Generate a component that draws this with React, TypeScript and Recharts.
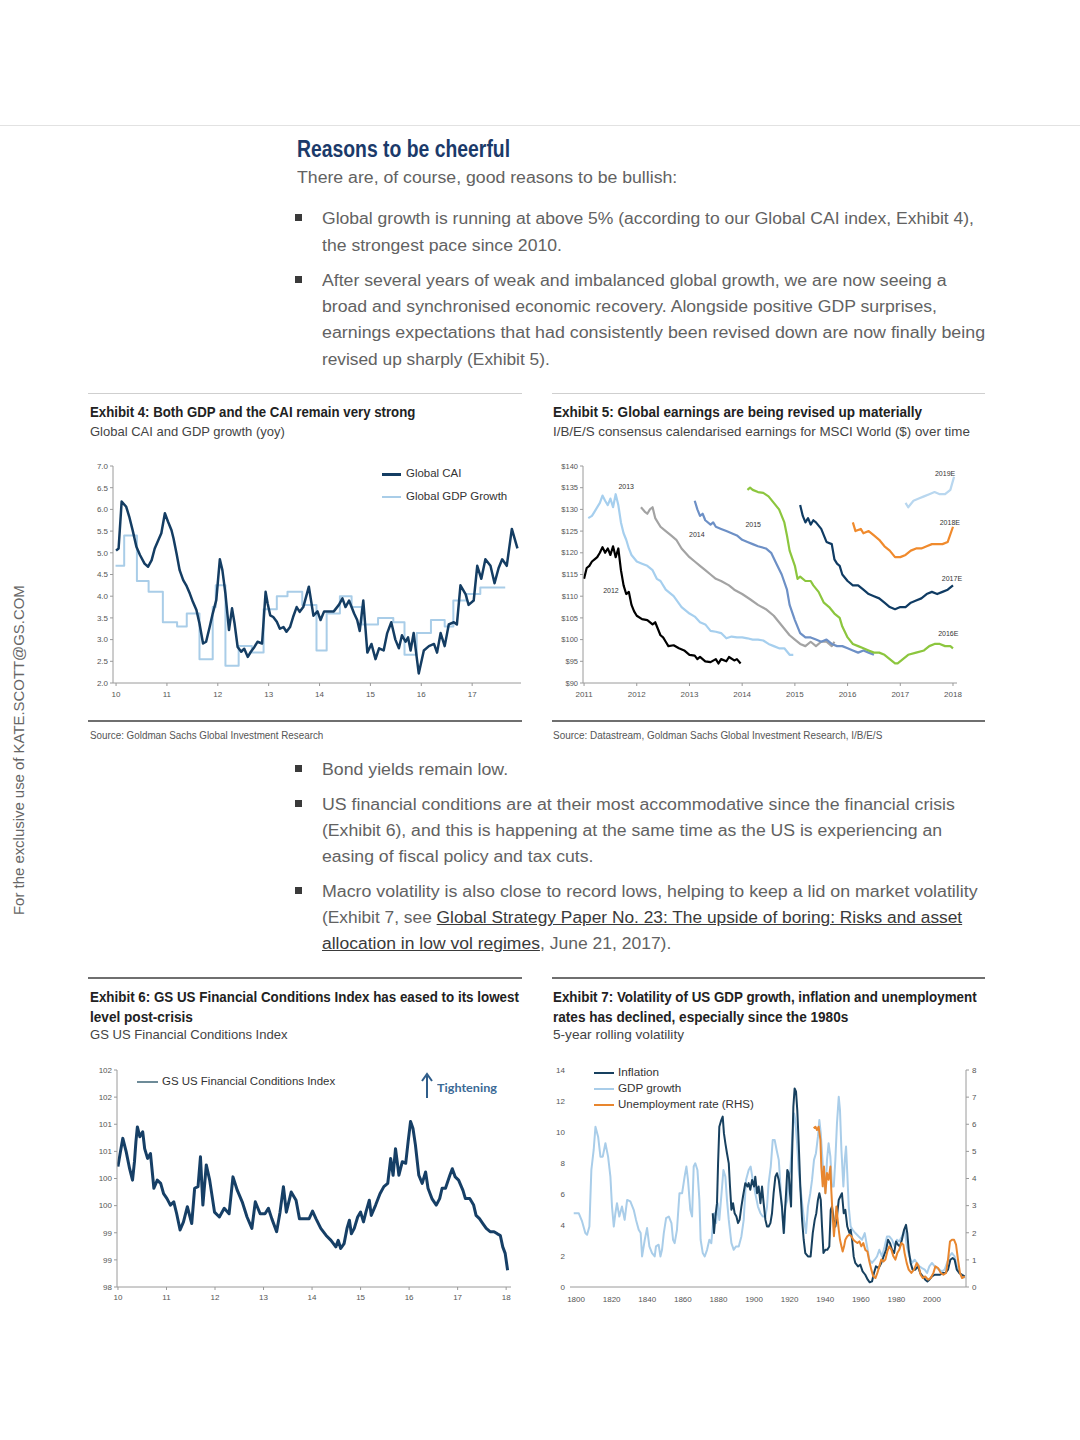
import React from 'react';
import { LineChart, Line, XAxis, YAxis, ReferenceDot } from 'recharts';

type P = [number, number];
const pts = (a: P[]) => a.map(([x, y]) => ({ x, y }));

const SANS = '"Liberation Sans", Arial, Helvetica, sans-serif';
const AX = '#9a9a9a';
const tickStyle = { fontSize: 8, fill: '#555', fontFamily: SANS };

// ---------- Exhibit 4 ----------
const ex4YearTicks = [10, 11, 12, 13, 14, 15, 16, 17];
const ex4ValueTicks = [2, 2.5, 3, 3.5, 4, 4.5, 5, 5.5, 6, 6.5, 7];
const globalCAI: P[] = [
  [10.0, 5.05], [10.05, 5.1], [10.11, 6.18], [10.2, 6.06], [10.26, 5.83], [10.33, 5.5], [10.4, 5.14], [10.47, 4.95], [10.56, 4.75], [10.63, 4.68],
  [10.7, 4.83], [10.76, 5.1], [10.83, 5.29], [10.89, 5.45], [10.96, 5.91], [11.02, 5.72], [11.09, 5.52], [11.13, 5.33], [11.19, 4.98], [11.25, 4.6],
  [11.32, 4.37], [11.38, 4.25], [11.45, 4.06], [11.51, 3.87], [11.58, 3.68], [11.64, 3.37], [11.71, 2.91], [11.77, 2.95], [11.84, 3.29], [11.9, 3.6],
  [11.97, 3.91], [12.04, 4.85], [12.09, 4.6], [12.15, 4.06], [12.22, 3.22], [12.28, 3.72], [12.33, 3.37], [12.39, 2.83], [12.46, 2.72], [12.52, 2.79],
  [12.59, 2.6], [12.65, 2.72], [12.72, 2.83], [12.78, 2.95], [12.87, 2.91], [12.94, 4.1], [12.98, 3.83], [13.03, 3.56], [13.09, 3.52], [13.16, 3.41],
  [13.22, 3.25], [13.29, 3.29], [13.35, 3.18], [13.42, 3.29], [13.48, 3.52], [13.55, 3.75], [13.61, 3.64], [13.68, 3.75], [13.79, 4.22], [13.88, 3.55],
  [13.96, 3.65], [14.02, 3.45], [14.09, 3.65], [14.19, 3.65], [14.28, 3.65], [14.38, 3.8], [14.45, 3.95], [14.51, 3.75], [14.58, 3.9], [14.68, 3.6],
  [14.74, 3.45], [14.79, 3.2], [14.86, 3.9], [14.94, 2.7], [15.02, 2.9], [15.1, 2.55], [15.17, 2.8], [15.26, 2.75], [15.33, 3.15], [15.41, 3.4],
  [15.49, 3.0], [15.56, 2.8], [15.62, 3.1], [15.69, 2.95], [15.74, 3.05], [15.79, 2.75], [15.85, 3.15], [15.95, 2.22], [16.05, 2.75], [16.15, 2.85],
  [16.25, 2.9], [16.31, 2.7], [16.38, 3.15], [16.46, 2.85], [16.54, 3.35], [16.64, 3.4], [16.7, 3.35], [16.77, 4.25], [16.87, 4.05], [16.93, 3.8],
  [17.03, 3.9], [17.1, 4.7], [17.18, 4.4], [17.26, 4.85], [17.36, 4.7], [17.44, 4.3], [17.52, 4.65], [17.59, 4.85], [17.68, 4.7], [17.78, 5.55], [17.89, 5.1],
];
const globalGDP: P[] = [
  [9.99, 4.7], [10.16, 5.4], [10.41, 4.35], [10.64, 4.1], [10.92, 3.4], [11.2, 3.3], [11.39, 3.6], [11.64, 2.55], [11.9, 3.75], [11.96, 4.25],
  [12.15, 2.4], [12.41, 2.85], [12.67, 2.7], [12.9, 3.7], [13.16, 4.0], [13.37, 4.1], [13.66, 3.8], [13.94, 2.75], [14.14, 3.6], [14.4, 4.0],
  [14.63, 3.75], [14.83, 3.35], [15.15, 3.5], [15.45, 3.4], [15.67, 2.65], [15.91, 3.15], [16.19, 3.45], [16.46, 3.3], [16.63, 3.9], [16.89, 4.05],
  [17.16, 4.2], [17.65, 4.2],
];

// ---------- Exhibit 5 ----------
const ex5YearTicks = [2011, 2012, 2013, 2014, 2015, 2016, 2017, 2018];
const ex5ValueTicks = [90, 95, 100, 105, 110, 115, 120, 125, 130, 135, 140];
const eps2012: P[] = [
  [2011.0, 114], [2011.05, 116.5], [2011.1, 117], [2011.15, 118], [2011.2, 118.5], [2011.25, 119], [2011.3, 120], [2011.35, 121.3], [2011.4, 120],
  [2011.45, 121], [2011.5, 119.5], [2011.55, 121.5], [2011.6, 119], [2011.65, 121], [2011.7, 116], [2011.75, 112.5], [2011.8, 110.5], [2011.85, 111],
  [2011.9, 108], [2011.95, 106.5], [2012.0, 105.5], [2012.1, 104.7], [2012.2, 104.5], [2012.3, 103.5], [2012.35, 104], [2012.4, 102.5], [2012.45, 101],
  [2012.5, 100.5], [2012.55, 99.5], [2012.6, 98.5], [2012.7, 98.7], [2012.8, 98], [2012.9, 97.5], [2013.0, 96.5], [2013.1, 96.3], [2013.15, 95.5],
  [2013.2, 96], [2013.3, 95], [2013.4, 94.8], [2013.5, 95.5], [2013.55, 94.5], [2013.6, 95.5], [2013.7, 95], [2013.75, 96], [2013.85, 95.2],
  [2013.9, 95.5], [2013.97, 94.5],
];
const eps2013: P[] = [
  [2011.08, 128], [2011.15, 128.5], [2011.2, 129.5], [2011.3, 131.5], [2011.35, 133.2], [2011.4, 132], [2011.45, 131], [2011.5, 132.5], [2011.55, 130.5],
  [2011.6, 133.5], [2011.65, 131], [2011.7, 127], [2011.75, 124.5], [2011.8, 123], [2011.85, 121], [2011.9, 119.5], [2012.0, 118], [2012.1, 117.5],
  [2012.2, 117], [2012.3, 116], [2012.38, 114], [2012.45, 113.5], [2012.55, 111.5], [2012.7, 110], [2012.85, 107.5], [2013.0, 106], [2013.1, 105.3],
  [2013.2, 104], [2013.3, 103.5], [2013.4, 102], [2013.5, 101.8], [2013.6, 101.5], [2013.7, 100.3], [2013.8, 100.7], [2013.9, 100.5], [2014.0, 100.5],
  [2014.1, 100.3], [2014.2, 100], [2014.3, 100], [2014.4, 99.8], [2014.5, 99], [2014.6, 98.5], [2014.7, 98], [2014.8, 98], [2014.9, 96.5], [2014.97, 96.5],
];
const eps2014: P[] = [
  [2012.08, 130.5], [2012.15, 129.5], [2012.2, 129], [2012.25, 130], [2012.3, 130.5], [2012.35, 128], [2012.45, 126], [2012.55, 125], [2012.65, 124],
  [2012.75, 123], [2012.85, 121], [2013.0, 119], [2013.1, 118], [2013.2, 117], [2013.3, 116], [2013.4, 115], [2013.5, 114], [2013.6, 113.5],
  [2013.75, 112.5], [2013.85, 111.5], [2014.0, 110.5], [2014.15, 109.3], [2014.3, 108], [2014.45, 107], [2014.6, 105.5], [2014.7, 104], [2014.8, 102.5],
  [2014.9, 101], [2015.0, 100], [2015.1, 99], [2015.2, 98.5], [2015.3, 99.5], [2015.4, 98.5], [2015.5, 99.5], [2015.6, 99.5], [2015.7, 98.5], [2015.75, 99.5],
];
const eps2015: P[] = [
  [2013.1, 132], [2013.15, 130], [2013.2, 128.5], [2013.25, 129], [2013.3, 127.5], [2013.4, 126.5], [2013.45, 127], [2013.5, 126], [2013.6, 125.5],
  [2013.7, 125], [2013.8, 124.5], [2013.9, 124], [2014.0, 123], [2014.1, 122.5], [2014.2, 122], [2014.3, 121.5], [2014.45, 121], [2014.55, 120],
  [2014.65, 117.5], [2014.75, 115], [2014.85, 111.5], [2014.9, 108], [2015.0, 104.5], [2015.1, 101.5], [2015.2, 100.5], [2015.3, 100.5], [2015.4, 100],
  [2015.5, 99.5], [2015.6, 100], [2015.7, 99], [2015.8, 98.5], [2015.9, 98.5], [2016.0, 98], [2016.1, 97.5], [2016.2, 97], [2016.3, 97.5], [2016.4, 97],
  [2016.5, 96.5],
];
const eps2016E: P[] = [
  [2014.1, 134.5], [2014.15, 135], [2014.2, 134.5], [2014.3, 134], [2014.4, 133.8], [2014.5, 133], [2014.6, 131.5], [2014.7, 130], [2014.8, 127],
  [2014.85, 124], [2014.9, 120.5], [2015.0, 117], [2015.05, 114], [2015.1, 114.5], [2015.2, 113.5], [2015.3, 113.5], [2015.35, 112.5], [2015.45, 111],
  [2015.55, 108.5], [2015.65, 107.5], [2015.75, 106], [2015.85, 105], [2015.9, 103], [2016.0, 100.5], [2016.1, 99], [2016.2, 98.5], [2016.3, 98],
  [2016.4, 97.5], [2016.5, 97], [2016.6, 97], [2016.7, 96.5], [2016.8, 95.5], [2016.9, 94.5], [2016.95, 94.5], [2017.05, 95.5], [2017.15, 96.5],
  [2017.3, 97], [2017.45, 97.5], [2017.55, 98.5], [2017.65, 99], [2017.75, 99], [2017.85, 98.5], [2017.95, 98.5], [2018.0, 98],
];
const eps2017E: P[] = [
  [2015.1, 131], [2015.15, 128.5], [2015.2, 127], [2015.25, 128], [2015.3, 126.5], [2015.35, 127.5], [2015.4, 127], [2015.5, 125.5], [2015.6, 122.5],
  [2015.7, 122], [2015.75, 118.5], [2015.8, 117.5], [2015.85, 117], [2015.9, 115], [2016.0, 113.5], [2016.1, 112.5], [2016.2, 112.5], [2016.3, 111.5],
  [2016.4, 110.5], [2016.5, 110], [2016.6, 109.5], [2016.7, 108.5], [2016.8, 107.5], [2016.9, 107], [2017.0, 107.5], [2017.1, 107.5], [2017.2, 108.5],
  [2017.3, 109], [2017.4, 109.5], [2017.5, 110.5], [2017.6, 111], [2017.7, 110.5], [2017.8, 111], [2017.9, 111.5], [2018.0, 112.5],
];
const eps2018E: P[] = [
  [2016.1, 127], [2016.15, 125], [2016.25, 125.5], [2016.3, 124.5], [2016.4, 125], [2016.5, 124], [2016.6, 123], [2016.7, 121.5], [2016.8, 120.5],
  [2016.9, 119], [2017.0, 119], [2017.1, 119.5], [2017.2, 120.5], [2017.3, 121], [2017.4, 121], [2017.5, 121.5], [2017.6, 122], [2017.7, 122],
  [2017.8, 122], [2017.9, 122.5], [2018.0, 126],
];
const eps2019E: P[] = [
  [2017.1, 131.5], [2017.15, 130.5], [2017.25, 132], [2017.35, 132.5], [2017.45, 133], [2017.55, 133.5], [2017.65, 134], [2017.75, 133.5],
  [2017.85, 133.5], [2017.95, 134.5], [2018.02, 137.5],
];
const ex5Series = [
  { name: '2012', data: eps2012, color: '#000000' },
  { name: '2013', data: eps2013, color: '#a6cfee' },
  { name: '2014', data: eps2014, color: '#a3a3a3' },
  { name: '2015', data: eps2015, color: '#6d90c6' },
  { name: '2016E', data: eps2016E, color: '#8cc63e' },
  { name: '2017E', data: eps2017E, color: '#0f3b63' },
  { name: '2018E', data: eps2018E, color: '#f08a2c' },
  { name: '2019E', data: eps2019E, color: '#b9d7ef' },
];
const ex5Labels = [
  { label: '2012', x: 2011.51, y: 111.4 },
  { label: '2013', x: 2011.8, y: 135.2 },
  { label: '2014', x: 2013.14, y: 124.3 },
  { label: '2015', x: 2014.21, y: 126.6 },
  { label: '2016E', x: 2017.91, y: 101.5 },
  { label: '2017E', x: 2017.98, y: 114.0 },
  { label: '2018E', x: 2017.94, y: 126.9 },
  { label: '2019E', x: 2017.85, y: 138.2 },
];

// ---------- Exhibit 6 ----------
const ex6YearTicks = [10, 11, 12, 13, 14, 15, 16, 17, 18];
const ex6ValueTicks = [98, 98.5, 99, 99.5, 100, 100.5, 101, 101.5, 102];
const fci: P[] = [
  [10.0, 100.22], [10.05, 100.49], [10.1, 100.74], [10.17, 100.49], [10.24, 100.18], [10.3, 99.97], [10.34, 100.31], [10.37, 100.68], [10.4, 100.95],
  [10.45, 100.77], [10.51, 100.86], [10.55, 100.55], [10.61, 100.37], [10.67, 100.46], [10.74, 99.82], [10.81, 99.97], [10.88, 99.91], [10.94, 99.72],
  [11.01, 99.63], [11.08, 99.51], [11.15, 99.57], [11.21, 99.35], [11.28, 99.05], [11.35, 99.2], [11.43, 99.48], [11.52, 99.17], [11.58, 99.82],
  [11.65, 99.85], [11.7, 100.4], [11.75, 99.51], [11.82, 100.25], [11.89, 99.97], [11.99, 99.38], [12.09, 99.29], [12.19, 99.45], [12.29, 99.35],
  [12.37, 100.03], [12.46, 99.78], [12.56, 99.57], [12.66, 99.29], [12.76, 99.08], [12.83, 99.57], [12.93, 99.35], [13.03, 99.35], [13.1, 99.45],
  [13.17, 99.26], [13.27, 99.02], [13.34, 99.38], [13.41, 99.85], [13.47, 99.38], [13.57, 99.75], [13.67, 99.6], [13.74, 99.26], [13.84, 99.26],
  [13.94, 99.26], [14.01, 99.4], [14.08, 99.26], [14.18, 99.08], [14.29, 98.95], [14.39, 98.86], [14.49, 98.74], [14.54, 98.86], [14.59, 98.71],
  [14.66, 98.8], [14.72, 99.08], [14.77, 99.23], [14.81, 98.98], [14.87, 99.08], [14.94, 99.29], [15.0, 99.38], [15.06, 99.2], [15.11, 99.38],
  [15.18, 99.6], [15.22, 99.32], [15.31, 99.51], [15.4, 99.72], [15.48, 99.85], [15.56, 99.91], [15.62, 100.37], [15.67, 100.06], [15.72, 100.55],
  [15.79, 100.06], [15.86, 100.31], [15.93, 100.28], [15.98, 100.68], [16.03, 101.05], [16.08, 100.92], [16.13, 100.62], [16.2, 100.06], [16.27, 99.91],
  [16.34, 100.12], [16.39, 99.82], [16.47, 99.63], [16.56, 99.51], [16.63, 99.63], [16.68, 99.82], [16.75, 99.82], [16.84, 100.06], [16.89, 100.18],
  [16.95, 100.03], [17.02, 99.97], [17.11, 99.78], [17.16, 99.63], [17.25, 99.63], [17.33, 99.51], [17.38, 99.32], [17.45, 99.26], [17.52, 99.17],
  [17.59, 99.08], [17.67, 99.02], [17.75, 99.02], [17.82, 98.98], [17.88, 98.95], [17.93, 98.74], [17.98, 98.62], [18.03, 98.31],
];

// ---------- Exhibit 7 ----------
const ex7YearTicks = [1800, 1820, 1840, 1860, 1880, 1900, 1920, 1940, 1960, 1980, 2000];
const ex7LeftTicks = [0, 2, 4, 6, 8, 10, 12, 14];
const ex7RightTicks = [0, 1, 2, 3, 4, 5, 6, 7, 8];
const gdpVol: P[] = [
  [1798.7, 4.76], [1801.5, 4.76], [1803.4, 4.23], [1805.2, 3.48], [1806.2, 3.37], [1807.5, 3.9], [1808.6, 7.55], [1809.9, 8.84], [1810.9, 10.34],
  [1812.4, 9.7], [1813.7, 8.41], [1815.0, 8.41], [1816.5, 9.27], [1818.0, 8.41], [1819.3, 7.12], [1820.2, 5.19], [1821.2, 3.9], [1822.1, 4.76],
  [1823.0, 5.41], [1824.3, 4.55], [1825.8, 5.19], [1827.3, 4.33], [1828.7, 5.62], [1830.5, 5.52], [1832.4, 4.98], [1833.7, 4.33], [1835.2, 3.69],
  [1836.3, 3.48], [1837.1, 1.97], [1838.6, 3.05], [1839.9, 3.8], [1841.2, 2.62], [1842.7, 2.19], [1844.2, 1.97], [1844.9, 2.62], [1846.4, 2.73],
  [1847.4, 1.97], [1848.3, 2.4], [1849.3, 3.48], [1850.6, 4.44], [1852.1, 4.55], [1853.6, 4.12], [1854.5, 3.05], [1855.4, 2.83], [1856.7, 3.69],
  [1858.1, 6.05], [1859.6, 6.05], [1861.0, 7.12], [1862.0, 7.77], [1862.9, 6.91], [1864.2, 4.98], [1865.2, 4.55], [1866.1, 7.77], [1867.0, 7.98],
  [1868.2, 7.55], [1869.3, 5.62], [1870.0, 3.05], [1871.2, 2.19], [1872.3, 1.97], [1873.6, 2.4], [1874.9, 3.05], [1876.0, 2.83], [1876.8, 3.9],
  [1877.7, 4.76], [1878.7, 4.12], [1879.6, 5.41], [1880.5, 4.33], [1881.6, 5.84], [1882.8, 7.55], [1883.9, 7.12], [1884.8, 5.62], [1885.8, 4.33],
  [1887.3, 2.83], [1888.6, 2.4], [1889.9, 2.62], [1891.4, 2.62], [1892.9, 3.26], [1894.2, 4.33], [1895.5, 6.91], [1897.0, 7.55], [1898.1, 7.77],
  [1899.3, 6.91], [1900.7, 6.05], [1902.2, 5.19], [1903.6, 4.76], [1904.9, 4.55], [1906.4, 4.55], [1907.3, 5.19], [1908.2, 6.7], [1909.4, 7.77],
  [1910.5, 9.48], [1911.6, 9.48], [1912.7, 8.84], [1913.9, 8.2], [1915.0, 6.26], [1916.1, 4.33], [1916.9, 3.48], [1917.6, 5.19], [1918.7, 5.62],
  [1919.5, 7.12], [1920.4, 7.55], [1921.3, 9.27], [1922.5, 11.2], [1923.2, 10.77], [1924.2, 9.27], [1925.1, 7.55], [1926.0, 6.48], [1927.0, 5.41],
  [1928.1, 4.33], [1929.2, 3.48], [1930.3, 5.19], [1931.6, 6.05], [1932.6, 6.91], [1933.7, 8.2], [1934.8, 8.63], [1935.9, 9.7], [1936.7, 10.77],
  [1937.5, 9.91], [1938.2, 8.63], [1939.1, 7.12], [1940.1, 6.05], [1941.0, 8.2], [1941.9, 9.27], [1942.9, 8.41], [1943.8, 6.48], [1944.8, 6.48],
  [1945.7, 8.2], [1946.6, 10.56], [1947.6, 12.27], [1948.3, 11.42], [1949.1, 8.84], [1950.2, 6.48], [1951.0, 8.2], [1951.7, 9.06], [1952.4, 7.34],
  [1953.2, 5.19], [1954.3, 3.9], [1955.4, 3.69], [1956.9, 3.48], [1958.8, 3.26], [1960.7, 3.05], [1962.2, 3.48], [1963.5, 2.62], [1964.8, 1.76],
  [1966.3, 1.55], [1967.8, 1.76], [1969.1, 1.97], [1970.4, 2.4], [1971.9, 1.97], [1973.4, 2.62], [1974.7, 3.26], [1976.0, 3.26], [1977.5, 3.05],
  [1979.0, 2.62], [1980.3, 3.05], [1981.6, 2.94], [1983.1, 3.26], [1984.6, 3.69], [1985.9, 2.62], [1987.3, 1.97], [1988.8, 1.55], [1990.3, 1.76],
  [1991.6, 1.55], [1992.9, 1.33], [1994.4, 1.22], [1995.9, 1.12], [1997.2, 0.9], [1998.5, 1.33], [2000.0, 1.55], [2001.5, 1.33], [2002.8, 1.22],
  [2004.1, 1.12], [2005.6, 1.01], [2007.1, 1.12], [2008.4, 1.55], [2009.7, 1.97], [2011.2, 2.19], [2012.7, 1.97], [2014.0, 1.33], [2015.4, 0.9],
  [2016.9, 0.69], [2018.4, 0.58],
];
const inflationVol: P[] = [
  [1876.8, 4.76], [1877.5, 3.48], [1878.3, 4.55], [1879.2, 5.41], [1879.8, 7.98], [1880.5, 10.34], [1881.6, 10.77], [1882.4, 10.99], [1883.1, 9.91],
  [1883.9, 9.27], [1884.8, 8.63], [1885.8, 7.98], [1886.5, 6.48], [1887.3, 4.98], [1888.2, 5.41], [1889.1, 4.76], [1890.1, 4.55], [1891.0, 4.12],
  [1891.9, 4.33], [1892.9, 5.19], [1893.8, 5.84], [1895.1, 6.7], [1896.3, 6.48], [1897.0, 6.7], [1897.9, 6.27], [1898.9, 6.91], [1900.0, 6.48],
  [1900.7, 7.12], [1901.7, 6.05], [1902.6, 6.48], [1903.6, 5.41], [1904.5, 6.48], [1905.4, 5.41], [1906.4, 4.33], [1907.3, 3.9], [1908.2, 3.9],
  [1909.2, 4.12], [1910.1, 4.76], [1911.0, 6.05], [1912.0, 7.12], [1912.9, 7.34], [1913.9, 6.91], [1914.8, 6.05], [1915.7, 5.19], [1916.7, 3.48],
  [1917.2, 4.55], [1918.0, 6.05], [1918.7, 7.55], [1919.5, 7.34], [1920.2, 6.05], [1920.8, 5.19], [1921.3, 8.2], [1922.1, 11.63], [1922.8, 12.81],
  [1923.6, 12.6], [1924.3, 11.42], [1925.1, 9.27], [1926.0, 6.48], [1927.0, 4.33], [1927.9, 3.05], [1928.8, 2.19], [1930.3, 1.97], [1931.8, 1.97],
  [1933.0, 3.48], [1934.1, 4.33], [1935.0, 4.76], [1935.9, 5.62], [1936.7, 6.05], [1937.5, 5.62], [1938.2, 3.9], [1939.0, 2.19], [1940.1, 2.4],
  [1941.2, 2.4], [1942.3, 2.62], [1943.1, 4.98], [1943.8, 5.19], [1944.8, 4.33], [1945.7, 3.9], [1946.6, 4.55], [1947.6, 5.62], [1948.5, 5.84],
  [1949.4, 6.05], [1950.4, 4.76], [1951.3, 4.98], [1952.4, 3.9], [1953.6, 3.48], [1954.3, 3.69], [1955.1, 3.05], [1956.0, 1.97], [1956.9, 1.55],
  [1958.4, 1.33], [1959.7, 1.44], [1961.0, 1.01], [1962.5, 0.79], [1963.9, 0.47], [1965.0, 0.3], [1966.3, 0.36], [1967.4, 0.9], [1968.5, 1.33],
  [1970.0, 1.22], [1971.5, 1.55], [1972.8, 1.97], [1974.2, 2.4], [1975.3, 3.05], [1976.4, 2.83], [1977.5, 2.4], [1978.7, 2.19], [1979.8, 2.94],
  [1980.9, 2.73], [1982.0, 2.62], [1983.1, 3.05], [1984.3, 3.69], [1985.4, 4.01], [1986.1, 3.48], [1986.9, 2.4], [1988.0, 1.55], [1989.1, 1.12],
  [1990.6, 1.12], [1992.1, 1.33], [1993.4, 0.9], [1994.8, 0.69], [1996.2, 0.47], [1997.4, 0.36], [1998.5, 0.47], [2000.0, 0.69], [2001.5, 0.79],
  [2003.0, 0.79], [2004.5, 0.79], [2006.0, 0.9], [2007.5, 0.9], [2009.0, 1.12], [2010.3, 1.76], [2011.6, 1.87], [2012.7, 1.76], [2013.9, 1.12],
  [2015.4, 0.9], [2016.9, 0.79], [2018.4, 0.69],
];
const unemploymentVol: P[] = [
  [1933.5, 5.85], [1934.5, 5.91], [1935.4, 5.79], [1936.3, 5.91], [1937.3, 5.42], [1937.8, 4.44], [1938.6, 3.71], [1939.3, 4.44], [1940.1, 3.46],
  [1941.0, 4.2], [1941.9, 3.95], [1942.9, 4.44], [1943.4, 3.58], [1944.2, 2.6], [1944.9, 1.87], [1945.7, 2.48], [1946.3, 2.97], [1946.8, 2.6],
  [1947.6, 2.11], [1948.3, 1.74], [1949.1, 1.5], [1949.8, 1.31], [1950.6, 1.5], [1951.3, 1.74], [1952.4, 1.87], [1953.6, 1.93], [1954.7, 1.87],
  [1955.8, 1.74], [1956.9, 1.68], [1958.1, 1.62], [1959.2, 1.68], [1960.3, 1.5], [1961.4, 1.62], [1962.5, 1.37], [1963.7, 1.31], [1964.8, 0.94],
  [1965.9, 0.64], [1967.0, 0.39], [1968.2, 0.33], [1969.3, 0.52], [1970.4, 0.76], [1971.5, 1.01], [1972.7, 0.94], [1973.8, 1.01], [1974.9, 1.31],
  [1976.0, 1.5], [1977.2, 1.37], [1978.3, 1.13], [1979.4, 1.01], [1980.5, 1.25], [1981.6, 1.37], [1982.8, 1.62], [1983.9, 1.56], [1984.6, 1.25],
  [1985.8, 0.88], [1986.9, 0.64], [1988.4, 0.52], [1989.9, 0.64], [1991.4, 0.88], [1992.5, 0.76], [1993.6, 0.45], [1994.8, 0.33], [1996.2, 0.39],
  [1997.8, 0.27], [1999.3, 0.33], [2000.8, 0.52], [2001.9, 0.76], [2003.4, 0.7], [2004.9, 0.52], [2006.4, 0.45], [2007.9, 0.52], [2009.0, 1.01],
  [2010.1, 1.68], [2011.2, 1.74], [2012.4, 1.74], [2013.5, 1.56], [2014.6, 1.01], [2015.7, 0.52], [2016.9, 0.33], [2018.4, 0.39],
];

// ---------- helpers ----------
function FitText({ x, y, w, size, weight = 400, color = '#333', family = SANS, children, style }: any) {
  const ref = React.useRef<HTMLSpanElement>(null);
  const [s, setS] = React.useState(1);
  React.useLayoutEffect(() => {
    if (ref.current && w) {
      const nat = ref.current.offsetWidth;
      if (nat > 0) setS(w / nat);
    }
  }, [w]);
  return (
    <span
      ref={ref}
      style={{
        position: 'absolute', left: x, top: y - size * 0.6, fontSize: size, lineHeight: `${size * 1.2}px`,
        fontWeight: weight, color, fontFamily: family, whiteSpace: 'nowrap', display: 'inline-block',
        transform: `scaleX(${s})`, transformOrigin: '0 50%', ...style,
      }}
    >
      {children}
    </span>
  );
}

const HLine = ({ x1, x2, y, color, t = 1 }: any) => (
  <div style={{ position: 'absolute', left: x1, top: y - t / 2, width: x2 - x1, height: t, background: color }} />
);

const Bullet = ({ y }: any) => (
  <div style={{ position: 'absolute', left: 295, top: y - 4, width: 7, height: 7, background: '#3a3a3a' }} />
);

const LegSwatch = ({ x, y, w = 20, color, t = 2 }: any) => (
  <div style={{ position: 'absolute', left: x, top: y - t / 2, width: w, height: t, background: color }} />
);

const BODY = '#626262';
const BS = 16;
const TITLE = '#222';

const lineProps = { dot: false, activeDot: false, isAnimationActive: false, strokeLinejoin: 'round' as const };

export default function App() {
  return (
    <div style={{ position: 'absolute', left: 0, top: 0, width: 1080, height: 1440, background: '#fff', overflow: 'hidden', fontFamily: SANS }}>
      <HLine x1={0} x2={1080} y={125} color="#e2e2e2" />

      {/* watermark */}
      <div style={{ position: 'absolute', left: 19 - 165, top: 750 - 10, width: 330, height: 20, transform: 'rotate(-90deg)', transformOrigin: '50% 50%' }}>
        <FitText x={0} y={10} w={330} size={15} color="#666">For the exclusive use of KATE.SCOTT@GS.COM</FitText>
      </div>

      <FitText x={297} y={150} w={213} size={23} weight={700} color="#1b3a6a">Reasons to be cheerful</FitText>
      <FitText x={297} y={178} w={380} size={BS} color={BODY}>There are, of course, good reasons to be bullish:</FitText>

      <Bullet y={218} />
      <FitText x={322} y={219} w={652} size={BS} color={BODY}>Global growth is running at above 5% (according to our Global CAI index, Exhibit 4),</FitText>
      <FitText x={322} y={246} w={240} size={BS} color={BODY}>the strongest pace since 2010.</FitText>
      <Bullet y={280} />
      <FitText x={322} y={281} w={625} size={BS} color={BODY}>After several years of weak and imbalanced global growth, we are now seeing a</FitText>
      <FitText x={322} y={307} w={615} size={BS} color={BODY}>broad and synchronised economic recovery. Alongside positive GDP surprises,</FitText>
      <FitText x={322} y={333} w={663} size={BS} color={BODY}>earnings expectations that had consistently been revised down are now finally being</FitText>
      <FitText x={322} y={360} w={228} size={BS} color={BODY}>revised up sharply (Exhibit 5).</FitText>

      <HLine x1={88} x2={522} y={393} color="#cfcfcf" />
      <HLine x1={552} x2={985} y={393} color="#cfcfcf" />

      <FitText x={90} y={412} w={325} size={14} weight={700} color={TITLE}>Exhibit 4: Both GDP and the CAI remain very strong</FitText>
      <FitText x={90} y={432} w={195} size={13} color="#444">Global CAI and GDP growth (yoy)</FitText>
      <FitText x={553} y={412} w={369} size={14} weight={700} color={TITLE}>Exhibit 5: Global earnings are being revised up materially</FitText>
      <FitText x={553} y={432} w={417} size={13} color="#444">I/B/E/S consensus calendarised earnings for MSCI World ($) over time</FitText>

      {/* Exhibit 4 chart */}
      <div style={{ position: 'absolute', left: 63, top: 456 }}>
        <LineChart width={468} height={252} margin={{ top: 10, right: 10, bottom: 5, left: 0 }}>
          <XAxis type="number" dataKey="x" domain={[9.94, 17.96]} ticks={ex4YearTicks} allowDataOverflow interval={0} height={20}
            tickSize={3} tickMargin={5} axisLine={{ stroke: AX }} tickLine={{ stroke: AX }} tick={tickStyle} />
          <YAxis type="number" domain={[2, 7]} ticks={ex4ValueTicks} allowDataOverflow interval={0} width={50}
            tickSize={3} tickMargin={2} axisLine={{ stroke: AX }} tickLine={{ stroke: AX }} tick={tickStyle}
            tickFormatter={(v: number) => v.toFixed(1)} />
          <Line data={pts(globalGDP)} dataKey="y" type="stepAfter" stroke="#a9cde8" strokeWidth={2} {...lineProps} />
          <Line data={pts(globalCAI)} dataKey="y" type="linear" stroke="#143d63" strokeWidth={2.5} {...lineProps} />
        </LineChart>
      </div>
      <LegSwatch x={382} y={474} w={19} color="#143d63" t={3} />
      <FitText x={406} y={474} w={55} size={10} color="#333">Global CAI</FitText>
      <LegSwatch x={382} y={497} w={19} color="#a9cde8" t={2} />
      <FitText x={406} y={497} w={101} size={10} color="#333">Global GDP Growth</FitText>

      {/* Exhibit 5 chart */}
      <div style={{ position: 'absolute', left: 533, top: 456 }}>
        <LineChart width={434} height={252} margin={{ top: 10, right: 10, bottom: 5, left: 0 }}>
          <XAxis type="number" dataKey="x" domain={[2010.98, 2018.076]} ticks={ex5YearTicks} allowDataOverflow interval={0} height={20}
            tickSize={3} tickMargin={5} axisLine={{ stroke: AX }} tickLine={{ stroke: AX }} tick={tickStyle} />
          <YAxis type="number" domain={[90, 140]} ticks={ex5ValueTicks} allowDataOverflow interval={0} width={50}
            tickSize={3} tickMargin={2} axisLine={{ stroke: AX }} tickLine={{ stroke: AX }} tick={{ ...tickStyle, fontSize: 7.5 }}
            tickFormatter={(v: number) => `$${v}`} />
          {ex5Series.map((s) => (
            <Line key={s.name} data={pts(s.data)} dataKey="y" type="linear" stroke={s.color} strokeWidth={2.2} {...lineProps} />
          ))}
          {ex5Labels.map((l) => (
            <ReferenceDot key={l.label} x={l.x} y={l.y} r={0} fill="none" stroke="none"
              label={{ value: l.label, position: 'center', fontSize: 7, fill: '#333', fontFamily: SANS }} />
          ))}
        </LineChart>
      </div>

      <HLine x1={88} x2={522} y={721} color="#6f6f6f" t={1.5} />
      <HLine x1={552} x2={985} y={721} color="#6f6f6f" t={1.5} />
      <FitText x={90} y={736} w={233} size={10} color="#555">Source: Goldman Sachs Global Investment Research</FitText>
      <FitText x={553} y={736} w={329} size={10} color="#555">Source: Datastream, Goldman Sachs Global Investment Research, I/B/E/S</FitText>

      <Bullet y={769} />
      <FitText x={322} y={770} w={186} size={BS} color={BODY}>Bond yields remain low.</FitText>
      <Bullet y={804} />
      <FitText x={322} y={805} w={633} size={BS} color={BODY}>US financial conditions are at their most accommodative since the financial crisis</FitText>
      <FitText x={322} y={831} w={620} size={BS} color={BODY}>(Exhibit 6), and this is happening at the same time as the US is experiencing an</FitText>
      <FitText x={322} y={857} w={271} size={BS} color={BODY}>easing of fiscal policy and tax cuts.</FitText>
      <Bullet y={891} />
      <FitText x={322} y={892} w={656} size={BS} color={BODY}>Macro volatility is also close to record lows, helping to keep a lid on market volatility</FitText>
      <FitText x={322} y={918} w={640} size={BS} color={BODY}>
        (Exhibit 7, see <span style={{ textDecoration: 'underline', color: '#3a3a3a' }}>Global Strategy Paper No. 23: The upside of boring: Risks and asset</span>
      </FitText>
      <FitText x={322} y={944} w={349} size={BS} color={BODY}>
        <span style={{ textDecoration: 'underline', color: '#3a3a3a' }}>allocation in low vol regimes</span>, June 21, 2017).
      </FitText>

      <HLine x1={88} x2={522} y={978} color="#6f6f6f" t={1.5} />
      <HLine x1={552} x2={985} y={978} color="#6f6f6f" t={1.5} />

      <FitText x={90} y={997} w={429} size={14} weight={700} color={TITLE}>Exhibit 6: GS US Financial Conditions Index has eased to its lowest</FitText>
      <FitText x={90} y={1017} w={103} size={14} weight={700} color={TITLE}>level post-crisis</FitText>
      <FitText x={90} y={1035} w={198} size={13} color="#444">GS US Financial Conditions Index</FitText>
      <FitText x={553} y={997} w={424} size={14} weight={700} color={TITLE}>Exhibit 7: Volatility of US GDP growth, inflation and unemployment</FitText>
      <FitText x={553} y={1017} w={295} size={14} weight={700} color={TITLE}>rates has declined, especially since the 1980s</FitText>
      <FitText x={553} y={1035} w={131} size={13} color="#444">5-year rolling volatility</FitText>

      {/* Exhibit 6 chart */}
      <div style={{ position: 'absolute', left: 77, top: 1060 }}>
        <LineChart width={444} height={252} margin={{ top: 10, right: 10, bottom: 5, left: 0 }}>
          <XAxis type="number" dataKey="x" domain={[9.98, 18.1]} ticks={ex6YearTicks} allowDataOverflow interval={0} height={20}
            tickSize={3} tickMargin={4} axisLine={{ stroke: AX }} tickLine={{ stroke: AX }} tick={tickStyle} />
          <YAxis type="number" domain={[98, 102]} ticks={ex6ValueTicks} allowDataOverflow interval={0} width={40}
            tickSize={3} tickMargin={2} axisLine={{ stroke: AX }} tickLine={{ stroke: AX }} tick={tickStyle}
            tickFormatter={(v: number) => String(Math.round(v))} />
          <Line data={pts(fci)} dataKey="y" type="linear" stroke="#163f66" strokeWidth={3} {...lineProps} />
        </LineChart>
      </div>
      <LegSwatch x={137} y={1082} w={21} color="#6d8b98" t={2} />
      <FitText x={162} y={1082} w={173} size={10} color="#333">GS US Financial Conditions Index</FitText>
      <svg style={{ position: 'absolute', left: 420, top: 1072 }} width={14} height={28}>
        <line x1={7} y1={4} x2={7} y2={26} stroke="#2f5d8a" strokeWidth={2} />
        <path d="M2,9 L7,2 L12,9" fill="none" stroke="#2f5d8a" strokeWidth={2} />
      </svg>
      <FitText x={437} y={1088} w={60} size={12} weight={700} color="#3b6a96" family='Lato, "Open Sans", sans-serif'>Tightening</FitText>

      {/* Exhibit 7 chart */}
      <div style={{ position: 'absolute', left: 540, top: 1060 }}>
        <LineChart width={451} height={252} margin={{ top: 10, right: 0, bottom: 5, left: 0 }}>
          <XAxis type="number" dataKey="x" domain={[1796.6, 2019.1]} ticks={ex7YearTicks} allowDataOverflow interval={0} height={20}
            tickSize={3} tickMargin={6} axisLine={{ stroke: AX }} tickLine={false} tick={tickStyle} />
          <YAxis yAxisId="left" type="number" domain={[0, 14]} ticks={ex7LeftTicks} allowDataOverflow interval={0} width={30}
            tickSize={0} tickMargin={5} axisLine={false} tickLine={false} tick={tickStyle} />
          <YAxis yAxisId="right" orientation="right" type="number" domain={[0, 8]} ticks={ex7RightTicks} allowDataOverflow interval={0} width={25}
            tickSize={3} tickMargin={3} axisLine={{ stroke: AX }} tickLine={{ stroke: AX }} tick={tickStyle} />
          <Line yAxisId="left" data={pts(gdpVol)} dataKey="y" type="linear" stroke="#a9cde9" strokeWidth={2} {...lineProps} />
          <Line yAxisId="left" data={pts(inflationVol)} dataKey="y" type="linear" stroke="#17405f" strokeWidth={2} {...lineProps} />
          <Line yAxisId="right" data={pts(unemploymentVol)} dataKey="y" type="linear" stroke="#e8862e" strokeWidth={2} {...lineProps} />
        </LineChart>
      </div>
      <LegSwatch x={594} y={1073} w={20} color="#17405f" />
      <FitText x={618} y={1073} w={41} size={10} color="#333">Inflation</FitText>
      <LegSwatch x={594} y={1089} w={20} color="#a9cde9" />
      <FitText x={618} y={1089} w={63} size={10} color="#333">GDP growth</FitText>
      <LegSwatch x={594} y={1105} w={20} color="#e8862e" />
      <FitText x={618} y={1105} w={136} size={10} color="#333">Unemployment rate (RHS)</FitText>
    </div>
  );
}
